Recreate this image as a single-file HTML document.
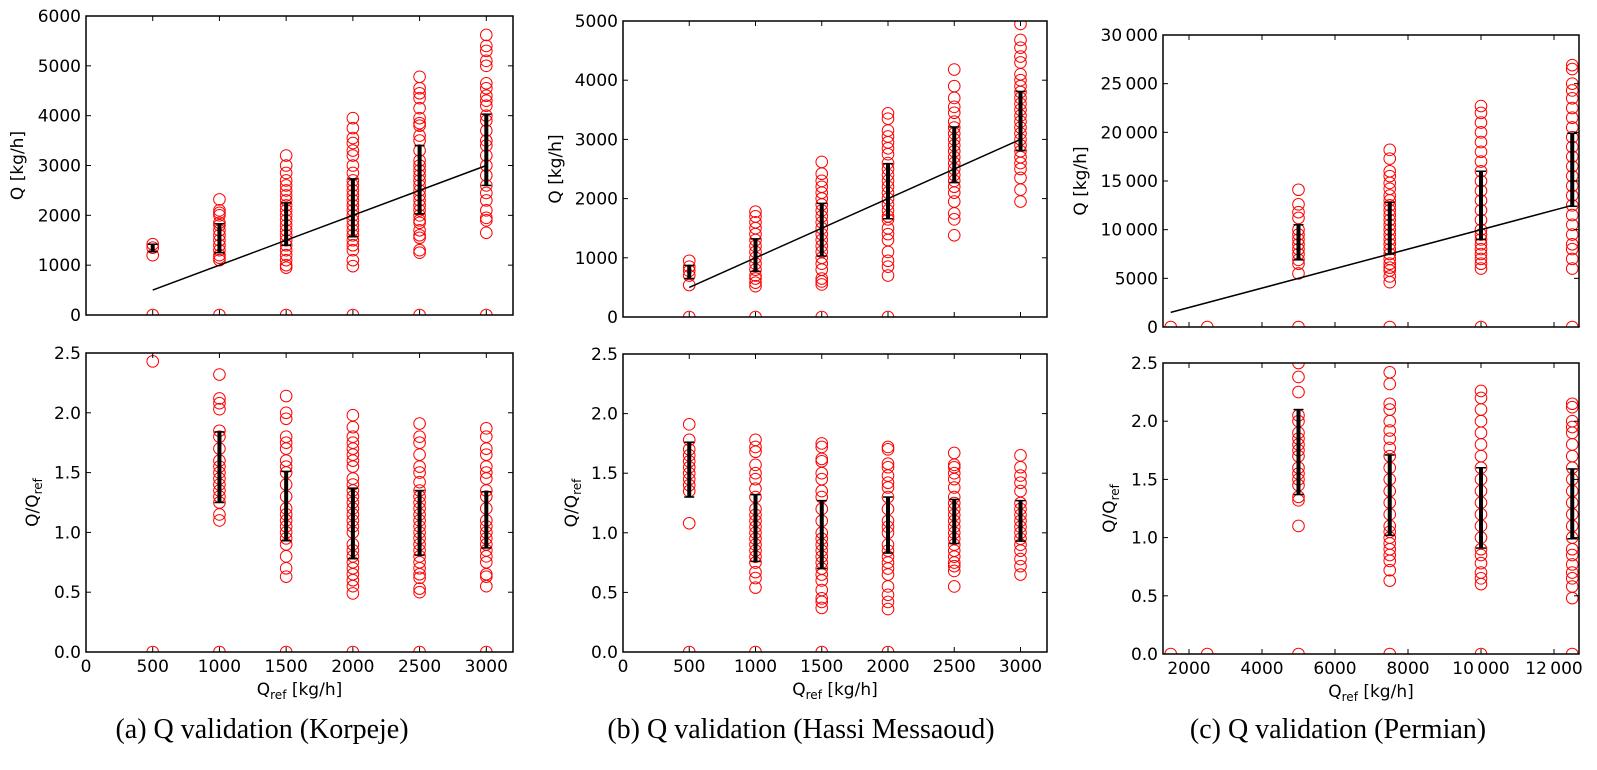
<!DOCTYPE html>
<html><head><meta charset="utf-8">
<style>
html,body{margin:0;padding:0;background:#fff;}
svg{display:block;font-family:"DejaVu Sans","Liberation Sans",sans-serif;}
.cap{font-family:"Liberation Serif",serif;font-size:28px;}
</style></head>
<body>
<svg id="fig" width="1597" height="770" viewBox="0 0 1597 770" xmlns="http://www.w3.org/2000/svg">
<text class="cap" x="262" y="738" text-anchor="middle">(a) Q validation (Korpeje)</text>
<text class="cap" x="801" y="738" text-anchor="middle">(b) Q validation (Hassi Messaoud)</text>
<text class="cap" x="1338" y="738" text-anchor="middle">(c) Q validation (Permian)</text>
</svg>
<script>
// ---------- Panel A (Korpeje) ----------
const aCats = [500, 1000, 1500, 2000, 2500, 3000];
const aQ = [
 [0, 1200, 1350, 1420],
 [0, 1100, 1150, 1200, 1300, 1400, 1500, 1600, 1700, 1800, 1850, 2000, 2050, 2100, 2320],
 [0, 950, 1000, 1100, 1200, 1300, 1400, 1500, 1600, 1700, 1800, 1900, 2000, 2100, 2200, 2300, 2400, 2500, 2600, 2700, 2850, 3000, 3200],
 [0, 980, 1100, 1300, 1400, 1500, 1600, 1700, 1800, 1900, 2000, 2100, 2200, 2300, 2400, 2500, 2600, 2700, 2850, 3000, 3200, 3300, 3450, 3550, 3750, 3950],
 [0, 1250, 1300, 1550, 1600, 1700, 1850, 1900, 2000, 2100, 2200, 2300, 2400, 2500, 2600, 2700, 2800, 2900, 3000, 3100, 3300, 3500, 3600, 3800, 3850, 3950, 4150, 4350, 4450, 4550, 4780],
 [0, 1650, 1900, 1950, 2100, 2300, 2450, 2600, 2800, 3000, 3200, 3400, 3500, 3700, 3900, 4000, 4200, 4300, 4400, 4550, 4650, 5000, 5100, 5300, 5400, 5620]
];
const aQLo = [1270, 1250, 1400, 1570, 2030, 2600];
const aQHi = [1420, 1830, 2250, 2730, 3400, 4030];
const aR = [
 [0, 2.43],
 [0, 1.1, 1.15, 1.25, 1.3, 1.35, 1.4, 1.45, 1.5, 1.55, 1.6, 1.7, 1.8, 1.85, 2.03, 2.08, 2.12, 2.32],
 [0, 0.63, 0.7, 0.8, 0.9, 0.95, 1.0, 1.05, 1.1, 1.15, 1.2, 1.3, 1.4, 1.5, 1.55, 1.6, 1.7, 1.75, 1.8, 1.95, 2.0, 2.14],
 [0, 0.49, 0.55, 0.6, 0.65, 0.7, 0.75, 0.8, 0.85, 0.9, 1.0, 1.05, 1.1, 1.15, 1.2, 1.25, 1.3, 1.35, 1.4, 1.45, 1.55, 1.6, 1.65, 1.7, 1.75, 1.8, 1.88, 1.98],
 [0, 0.5, 0.53, 0.62, 0.65, 0.7, 0.75, 0.8, 0.85, 0.9, 0.95, 1.0, 1.05, 1.1, 1.15, 1.2, 1.25, 1.3, 1.35, 1.42, 1.5, 1.55, 1.65, 1.75, 1.8, 1.91],
 [0, 0.55, 0.63, 0.65, 0.75, 0.8, 0.85, 0.9, 0.95, 1.0, 1.05, 1.1, 1.2, 1.3, 1.35, 1.45, 1.5, 1.55, 1.65, 1.7, 1.8, 1.87]
];
const aRLo = [null, 1.25, 0.93, 0.78, 0.81, 0.87];
const aRHi = [null, 1.84, 1.51, 1.37, 1.35, 1.34];
const aLine = [500, 3000];
const aXTicks = [0, 500, 1000, 1500, 2000, 2500, 3000];
const aXTickLabels = ["0", "500", "1000", "1500", "2000", "2500", "3000"];
const aYTicks = [0, 1000, 2000, 3000, 4000, 5000, 6000];
const aYTickLabels = ["0", "1000", "2000", "3000", "4000", "5000", "6000"];

// ---------- Panel B (Hassi Messaoud) ----------
const bCats = [500, 1000, 1500, 2000, 2500, 3000];
const bQ = [
 [0, 540, 700, 780, 850, 950],
 [0, 520, 580, 650, 700, 800, 900, 1000, 1100, 1200, 1300, 1400, 1500, 1600, 1700, 1780],
 [0, 550, 600, 650, 800, 900, 1000, 1100, 1200, 1300, 1400, 1500, 1600, 1700, 1800, 1900, 2000, 2100, 2200, 2300, 2420, 2620],
 [0, 700, 850, 950, 1100, 1300, 1400, 1500, 1650, 1700, 1800, 1900, 2000, 2100, 2200, 2300, 2400, 2500, 2600, 2750, 2850, 2950, 3050, 3150, 3350, 3440],
 [1380, 1650, 1750, 1950, 2100, 2200, 2300, 2400, 2500, 2600, 2700, 2800, 2900, 3000, 3100, 3200, 3300, 3450, 3550, 3700, 3900, 4180],
 [1950, 2150, 2350, 2500, 2600, 2700, 2800, 2900, 3000, 3100, 3200, 3300, 3400, 3500, 3600, 3700, 3800, 3900, 4000, 4100, 4300, 4400, 4550, 4680, 4950]
];
const bQLo = [650, 770, 1030, 1660, 2270, 2810];
const bQHi = [870, 1320, 1920, 2590, 3210, 3810];
const bR = [
 [0, 1.08, 1.35, 1.4, 1.45, 1.5, 1.55, 1.6, 1.65, 1.7, 1.78, 1.91],
 [0, 0.54, 0.62, 0.67, 0.75, 0.8, 0.85, 0.9, 0.95, 1.0, 1.05, 1.1, 1.15, 1.2, 1.3, 1.37, 1.45, 1.5, 1.57, 1.68, 1.72, 1.78],
 [0, 0.37, 0.42, 0.45, 0.52, 0.6, 0.65, 0.7, 0.75, 0.8, 0.85, 0.9, 0.95, 1.0, 1.1, 1.2, 1.3, 1.35, 1.45, 1.5, 1.6, 1.62, 1.72, 1.75],
 [0, 0.36, 0.42, 0.48, 0.55, 0.65, 0.7, 0.75, 0.8, 0.85, 0.9, 1.0, 1.05, 1.1, 1.2, 1.3, 1.38, 1.42, 1.48, 1.55, 1.58, 1.7, 1.72],
 [0.55, 0.68, 0.72, 0.75, 0.8, 0.85, 0.9, 0.95, 1.0, 1.05, 1.1, 1.15, 1.2, 1.25, 1.3, 1.38, 1.45, 1.5, 1.55, 1.57, 1.67],
 [0.65, 0.72, 0.78, 0.85, 0.9, 0.95, 1.0, 1.05, 1.1, 1.15, 1.2, 1.25, 1.35, 1.42, 1.48, 1.55, 1.65]
];
const bRLo = [1.3, 0.76, 0.7, 0.83, 0.91, 0.93];
const bRHi = [1.76, 1.32, 1.27, 1.3, 1.28, 1.27];
const bLine = [500, 3000];
const bXTicks = [0, 500, 1000, 1500, 2000, 2500, 3000];
const bXTickLabels = ["0", "500", "1000", "1500", "2000", "2500", "3000"];
const bYTicks = [0, 1000, 2000, 3000, 4000, 5000];
const bYTickLabels = ["0", "1000", "2000", "3000", "4000", "5000"];

// ---------- Panel C (Permian) ----------
const cCats = [1500, 2500, 5000, 7500, 10000, 12500];
const cQ = [
 [0],
 [0],
 [0, 5500, 6500, 6900, 7500, 8000, 8500, 9000, 9500, 10000, 11200, 11800, 12600, 14100],
 [0, 4600, 5200, 5800, 6100, 6500, 7000, 7500, 8000, 8500, 9000, 9500, 10000, 10500, 11000, 11500, 12000, 12500, 13000, 13500, 14200, 14800, 15500, 16000, 17300, 18200],
 [0, 6000, 6500, 7000, 7500, 8000, 8500, 9000, 9500, 10000, 11000, 12000, 13000, 14000, 15000, 16000, 17000, 18000, 19000, 20000, 21000, 22000, 22700],
 [0, 6000, 7000, 8000, 8500, 9500, 10500, 11500, 12500, 13500, 14500, 15500, 16500, 17500, 18500, 19500, 20500, 21500, 22500, 23500, 24300, 25000, 26500, 26900]
];
const cQLo = [null, null, 6900, 7500, 9000, 12400];
const cQHi = [null, null, 10500, 12800, 16000, 19900];
const cR = [
 [0],
 [0],
 [0, 1.1, 1.32, 1.35, 1.45, 1.5, 1.55, 1.6, 1.7, 1.75, 1.8, 1.85, 1.9, 2.0, 2.05, 2.25, 2.38, 2.5],
 [0, 0.63, 0.72, 0.8, 0.85, 0.9, 0.95, 1.0, 1.05, 1.1, 1.2, 1.3, 1.4, 1.5, 1.6, 1.7, 1.77, 1.85, 1.92, 2.0, 2.1, 2.15, 2.32, 2.42],
 [0, 0.6, 0.65, 0.7, 0.78, 0.85, 0.9, 1.0, 1.1, 1.2, 1.3, 1.4, 1.5, 1.6, 1.7, 1.8, 1.9, 2.0, 2.1, 2.2, 2.26],
 [0, 0.48, 0.58, 0.65, 0.7, 0.77, 0.85, 0.9, 1.0, 1.1, 1.2, 1.3, 1.4, 1.5, 1.6, 1.7, 1.8, 1.9, 1.95, 2.0, 2.12, 2.15]
];
const cRLo = [null, null, 1.37, 1.02, 0.91, 0.99];
const cRHi = [null, null, 2.1, 1.71, 1.6, 1.59];
const cLine = [1500, 12500];
const cXTicks = [2000, 4000, 6000, 8000, 10000, 12000];
const cXTickLabels = ["2000", "4000", "6000", "8000", "10\u2009000", "12\u2009000"];
const cYTicks = [0, 5000, 10000, 15000, 20000, 25000, 30000];
const cYTickLabels = ["0", "5000", "10\u2009000", "15\u2009000", "20\u2009000", "25\u2009000", "30\u2009000"];

const rTicks = [0, 0.5, 1.0, 1.5, 2.0, 2.5];
const rTickLabels = ["0.0", "0.5", "1.0", "1.5", "2.0", "2.5"];

const NS = "http://www.w3.org/2000/svg";
const svg = document.getElementById("fig");
let clipId = 0;
function mk(tag, attrs, parent) {
  const e = document.createElementNS(NS, tag);
  for (const k in attrs) e.setAttribute(k, attrs[k]);
  (parent || svg).appendChild(e);
  return e;
}
const FS = 17;

function drawAxes(box, xmin, xmax, ymin, ymax, cats, pts, lo, hi, line, xt, xtl, yt, ytl, ylabel, showX, prefix) {
  const g = mk("g", {});
  
  
  const sx = v => box.l + (v - xmin) / (xmax - xmin) * (box.r - box.l);
  const sy = v => box.b - (v - ymin) / (ymax - ymin) * (box.b - box.t);
  const id = "clip" + (clipId++);
  const cp = mk("clipPath", {id: id}, g);
  mk("rect", {x: box.l, y: box.t, width: box.r - box.l, height: box.b - box.t}, cp);
  const plot = mk("g", {"clip-path": "url(#" + id + ")"}, g);
  for (let i = 0; i < cats.length; i++) {
    for (const v of pts[i]) {
      const c = mk("circle", {cx: sx(cats[i]), cy: sy(v), r: 5.8, fill: "none", stroke: "#ff0000", "stroke-width": 1}, plot);
      
      
    }
  }
  if (line) {
    const ln = mk("line", {x1: sx(line[0]), y1: sy(line[0]), x2: sx(line[1]), y2: sy(line[1]), stroke: "#000", "stroke-width": 1.5}, plot);
    
    
  }
  for (let i = 0; i < cats.length; i++) {
    if (lo[i] == null) continue;
    const x = sx(cats[i]);
    const eb = mk("g", {}, plot);
    
    
    mk("line", {x1: x, y1: sy(lo[i]), x2: x, y2: sy(hi[i]), stroke: "#000", "stroke-width": 4}, eb);
    mk("line", {x1: x - 5, y1: sy(lo[i]), x2: x + 5, y2: sy(lo[i]), stroke: "#000", "stroke-width": 1.5}, eb);
    mk("line", {x1: x - 5, y1: sy(hi[i]), x2: x + 5, y2: sy(hi[i]), stroke: "#000", "stroke-width": 1.5}, eb);
  }
  const fr = mk("rect", {x: box.l, y: box.t, width: box.r - box.l, height: box.b - box.t, fill: "none", stroke: "#000", "stroke-width": 1.5}, g);
  
  
  for (let i = 0; i < xt.length; i++) {
    const x = sx(xt[i]);
    mk("line", {x1: x, y1: box.b, x2: x, y2: box.b - 5, stroke: "#000", "stroke-width": 1}, g);
    mk("line", {x1: x, y1: box.t, x2: x, y2: box.t + 5, stroke: "#000", "stroke-width": 1}, g);
    if (showX) {
      const t = mk("text", {x: x, y: box.b + 20, "text-anchor": "middle", "font-size": FS}, g);
      t.textContent = xtl[i];
      
      
    }
  }
  for (let i = 0; i < yt.length; i++) {
    const y = sy(yt[i]);
    mk("line", {x1: box.l, y1: y, x2: box.l + 5, y2: y, stroke: "#000", "stroke-width": 1}, g);
    mk("line", {x1: box.r, y1: y, x2: box.r - 5, y2: y, stroke: "#000", "stroke-width": 1}, g);
    const t = mk("text", {x: box.l - 5, y: y + 6, "text-anchor": "end", "font-size": FS}, g);
    t.textContent = ytl[i];
    
    
  }
  const yx = ylabel.x, yy = (box.t + box.b) / 2;
  const yl = mk("text", {x: yx, y: yy, "text-anchor": "middle", "font-size": FS, transform: "rotate(-90 " + yx + " " + yy + ")"}, g);
  
  
  if (ylabel.ratio) {
    yl.appendChild(document.createTextNode("Q/Q"));
    const s = mk("tspan", {"font-size": 12, dy: 4}, yl); s.textContent = "ref";
  } else {
    yl.textContent = "Q [kg/h]";
  }
  if (showX) {
    const cx = (box.l + box.r) / 2;
    const xl = mk("text", {x: cx, y: box.b + 43, "text-anchor": "middle", "font-size": FS}, g);
    
    
    xl.appendChild(document.createTextNode("Q"));
    const s = mk("tspan", {"font-size": 12, dy: 4}, xl); s.textContent = "ref";
    const s2 = mk("tspan", {dy: -4}, xl); s2.textContent = " [kg/h]";
  }
}

drawAxes({l: 86, r: 513, t: 16, b: 315}, 0, 3200, 0, 6000, aCats, aQ, aQLo, aQHi, aLine, aXTicks, aXTickLabels, aYTicks, aYTickLabels, {x: 23}, false, "a-top");
drawAxes({l: 86, r: 513, t: 353, b: 652}, 0, 3200, 0, 2.5, aCats, aR, aRLo, aRHi, null, aXTicks, aXTickLabels, rTicks, rTickLabels, {x: 38, ratio: true}, true, "a-bottom");
drawAxes({l: 623, r: 1047, t: 21, b: 317}, 0, 3200, 0, 5000, bCats, bQ, bQLo, bQHi, bLine, bXTicks, bXTickLabels, bYTicks, bYTickLabels, {x: 561}, false, "b-top");
drawAxes({l: 623, r: 1047, t: 354, b: 652}, 0, 3200, 0, 2.5, bCats, bR, bRLo, bRHi, null, bXTicks, bXTickLabels, rTicks, rTickLabels, {x: 577, ratio: true}, true, "b-bottom");
drawAxes({l: 1163, r: 1579, t: 35, b: 327}, 1288, 12685, 0, 30000, cCats, cQ, cQLo, cQHi, cLine, cXTicks, cXTickLabels, cYTicks, cYTickLabels, {x: 1086}, false, "c-top");
drawAxes({l: 1163, r: 1579, t: 363, b: 654}, 1288, 12685, 0, 2.5, cCats, cR, cRLo, cRHi, null, cXTicks, cXTickLabels, rTicks, rTickLabels, {x: 1115, ratio: true}, true, "c-bottom");
</script>
</body></html>
